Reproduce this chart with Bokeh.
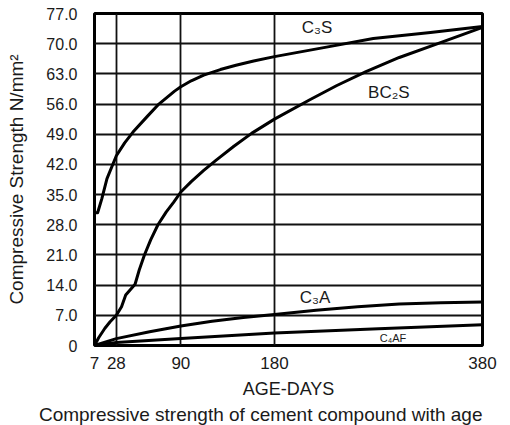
from bokeh.plotting import figure
from bokeh.models import FixedTicker, Range1d, Title
from bokeh.core.properties import value
from bokeh.embed import file_html
from bokeh.resources import INLINE

# ---- data (age in days, strength N/mm2) ----
c3s_days = [7, 10, 11, 14, 19, 28, 36, 44, 58, 68, 84, 90, 100, 112, 128, 143, 160, 180, 230, 275, 330, 380]
c3s_vals = [30.8, 30.8, 31.6, 34.0, 38.7, 44.0, 47.0, 49.5, 53.2, 55.8, 59.0, 60.0, 61.4, 62.7, 64.0, 65.0, 66.0, 67.0, 69.2, 71.2, 72.6, 74.0]

bc2s_days = [7, 11, 17, 22, 28, 33, 37, 46, 50, 55, 61, 68, 76, 83, 90, 100, 112, 124, 141, 158, 180, 214, 240, 268, 300, 337, 380]
bc2s_vals = [0.0, 1.8, 4.0, 5.5, 7.0, 9.0, 11.7, 14.2, 17.5, 21.0, 24.5, 28.0, 31.0, 33.2, 35.6, 38.0, 40.6, 43.0, 46.2, 49.2, 52.5, 57.0, 60.3, 63.5, 66.8, 70.0, 73.8]

c3a_days = [7, 28, 60, 90, 120, 150, 180, 220, 260, 300, 340, 380]
c3a_vals = [0.0, 1.6, 3.2, 4.5, 5.6, 6.5, 7.2, 8.2, 9.0, 9.6, 9.9, 10.1]

c4af_days = [7, 28, 90, 180, 280, 380]
c4af_vals = [0.0, 0.7, 1.6, 2.9, 3.9, 4.8]

x_ticks = [7, 28, 90, 180, 380]
x_grid = [28, 90, 180]
y_ticks = [0, 7, 14, 21, 28, 35, 42, 49, 56, 63, 70, 77]
y_tick_labels = ["0", "7.0", "14.0", "21.0", "28.0", "35.0", "42.0", "49.0", "56.0", "63.0", "70.0", "77.0"]

label_text = ["C\u2083S", "BC\u2082S", "C\u2083A"]
label_x = [221, 290, 219]
label_y = [73.8, 58.7, 11.2]
small_label_text = ["C\u2084AF"]
small_label_x = [294]
small_label_y = [1.7]

caption = "Compressive strength of cement compound with age"

FONT = "Liberation Sans"
INK = "#1a1a1a"

p = figure(width=505, height=425, output_backend="svg", toolbar_location=None,
           x_range=Range1d(7, 380), y_range=Range1d(0, 77),
           min_border_left=94, min_border_right=23, min_border_top=13, min_border_bottom=77)

p.background_fill_color = "white"
p.border_fill_color = "white"
p.outline_line_color = "black"
p.outline_line_width = 3

# grid
p.xgrid.ticker = FixedTicker(ticks=x_grid)
p.ygrid.ticker = FixedTicker(ticks=y_ticks[1:-1])
for g in (p.xgrid, p.ygrid):
    g.grid_line_color = "#111111"
    g.grid_line_width = 1.8
    g.grid_line_alpha = 1.0

# axes
p.xaxis.ticker = FixedTicker(ticks=x_ticks)
p.yaxis.ticker = FixedTicker(ticks=y_ticks)
p.yaxis.major_label_overrides = {t: s for t, s in zip(y_ticks, y_tick_labels)}
for ax in (p.xaxis, p.yaxis):
    ax.axis_line_color = None
    ax.major_tick_line_color = None
    ax.minor_tick_line_color = None
    ax.major_label_text_font = FONT
    ax.major_label_text_color = INK
    ax.axis_label_text_font = FONT
    ax.axis_label_text_font_style = "normal"
    ax.axis_label_text_color = INK
p.yaxis.major_label_text_font_size = "16px"
p.xaxis.major_label_text_font_size = "17px"
p.xaxis.major_label_standoff = 5
p.yaxis.major_label_standoff = 11
p.xaxis.axis_label = "AGE-DAYS"
p.xaxis.axis_label_text_font_size = "18px"
p.xaxis.axis_label_standoff = 7
p.yaxis.axis_label = "Compressive Strength N/mm\u00b2"
p.yaxis.axis_label_text_font_size = "19px"
p.yaxis.axis_label_standoff = 16

# curves
for xs, ys in ((c3s_days, c3s_vals), (bc2s_days, bc2s_vals), (c3a_days, c3a_vals), (c4af_days, c4af_vals)):
    p.line(xs, ys, line_color="black", line_width=3, line_join="round", line_cap="round")

# curve labels
p.text(x=label_x, y=label_y, text=label_text, text_font=value(FONT), text_font_size="17px",
       text_color=INK, text_align="center", text_baseline="middle")
p.text(x=small_label_x, y=small_label_y, text=small_label_text, text_font=value(FONT), text_font_size="11px",
       text_color=INK, text_align="center", text_baseline="middle")

# caption
p.add_layout(Title(text=caption, align="right", offset=0, standoff=1,
                   text_font=FONT, text_font_size="19px", text_font_style="normal",
                   text_color=INK), "below")

open("out.html", "w").write(file_html(p, INLINE))
